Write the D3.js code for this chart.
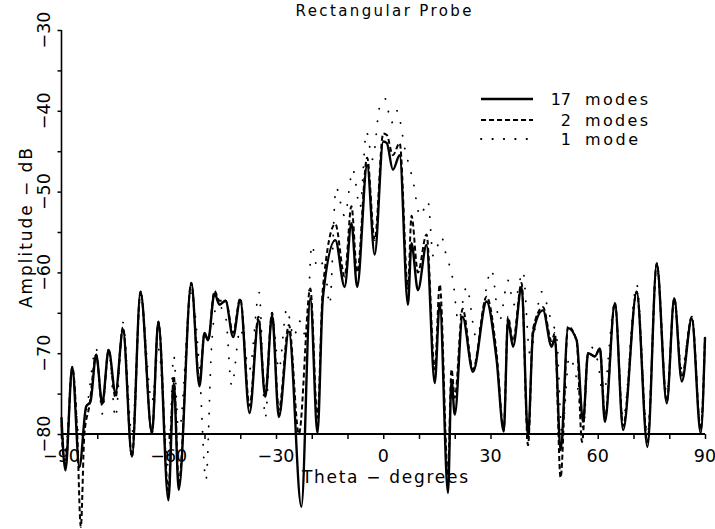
<!DOCTYPE html>
<html>
<head>
<meta charset="utf-8">
<script src="https://cdn.jsdelivr.net/npm/d3@7"></script>
<style>
  html, body { margin: 0; padding: 0; background: #fff; }
  svg { display: block; }
  text { font-family: "DejaVu Sans", "Liberation Sans", sans-serif; fill: #000; }
</style>
</head>
<body>
<svg id="chart" width="715" height="529"></svg>
<script>
// ---------------- data ----------------
const chartTitle = "Rectangular Probe";
const xTitle = "Theta \u2212 degrees";
const yTitle = "Amplitude \u2212 dB";

const xTicksMajor = [-90, -60, -30, 0, 30, 60, 90];
const xTicksMinor = [-90, -80, -70, -60, -50, -40, -30, -20, -10, 0, 10, 20, 30, 40, 50, 60, 70, 80, 90];
const yTicksMajor = [-80, -70, -60, -50, -40, -30];
const yTicksMinor = [-80, -75, -70, -65, -60, -55, -50, -45, -40, -35, -30];

const seriesNames = ["17 modes", "2 modes", "1 mode"];
const legendNumbers = ["17", "2", "1"];
const legendWords = ["modes", "modes", "mode"];

// 17 modes (solid)
const theta17 = [-90, -88.9, -87.0, -85.0, -83.1, -81.9, -80.3, -78.6, -76.8, -74.9, -72.8, -70.3, -67.9, -64.7, -62.9, -60.1, -58.6, -57.2, -53.7, -51.4, -50.0, -49.0, -47.2, -45.8, -44.1, -42.0, -40.0, -37.4, -34.9, -33.0, -31.1, -29.2, -26.4, -22.9, -20.4, -18.4, -16.9, -13.4, -10.8, -8.9, -7.3, -4.5, -2.4, 0, 1.0, 2.7, 4.6, 6.9, 7.9, 9.7, 12.1, 14.4, 15.8, 18.1, 19.1, 20.0, 22.2, 25.1, 28.9, 31.7, 33.7, 34.9, 36.3, 38.7, 40.5, 41.9, 44.7, 47.1, 48.0, 49.6, 51.7, 54.1, 55.9, 57.3, 59.2, 60.6, 62.0, 64.8, 67.1, 70.9, 73.9, 76.5, 79.3, 81.4, 83.5, 86.3, 88.8, 90];
const amp17 = [-78, -84.5, -71.7, -84.1, -76.6, -76, -70.2, -76.2, -69.6, -74.9, -67.1, -82.8, -62.4, -79.9, -66.1, -88.2, -73.7, -86.9, -61.3, -74.1, -67.5, -68.4, -62.6, -64.0, -63.5, -68.0, -63.4, -77.4, -65.9, -75.4, -65.3, -77.9, -67.3, -89.0, -63.2, -79.9, -63.2, -56.0, -61.8, -53.9, -61.8, -46.7, -57.8, -43.8, -44.0, -47.3, -45.5, -64.0, -56.4, -62.2, -56.6, -73.7, -63.8, -87.3, -73.3, -77.6, -65.5, -72.3, -63.6, -70.8, -79.7, -65.9, -69.2, -61.8, -80.3, -67.5, -64.7, -69.2, -68.1, -82, -66.9, -68.4, -78.5, -70.0, -70.4, -69.4, -78.5, -63.8, -79.5, -62.4, -81.6, -58.9, -76.2, -63.2, -73.5, -65.7, -79.9, -68.1];

// 2 modes (dashed)
const theta2 = [-90, -88.9, -87, -85.6, -84.6, -83.6, -82.2, -80.3, -78.6, -76.8, -74.9, -72.8, -70.3, -67.9, -64.7, -62.9, -60.1, -58.6, -57.2, -53.7, -51.4, -50, -49, -47.2, -45.8, -44.1, -42, -40, -37.4, -34.9, -33, -31.1, -29.2, -26.4, -23.6, -20.4, -18.4, -16.9, -13.4, -10.8, -8.9, -7.3, -4.5, -2.4, 0, 1, 2.7, 4.6, 6.9, 7.9, 9.7, 12.1, 14.4, 15.8, 18.1, 19.1, 20, 22.2, 25.1, 28.9, 31.7, 33.7, 34.9, 36.3, 38.7, 40.5, 41.9, 44.7, 47.1, 48, 49.6, 51.7, 54.1, 55.6, 57.3, 59.2, 60.6, 62, 64.8, 67.1, 70.9, 73.9, 76.5, 79.3, 81.4, 83.5, 86.3, 88.8, 90];
const amp2 = [-80, -84, -71.7, -80, -91.5, -80, -76.5, -70.2, -76.5, -69.6, -75.5, -66.8, -82.8, -62.4, -79.9, -66.1, -87, -72.8, -86, -61.3, -73.5, -67.5, -68.4, -62.3, -63.5, -63.5, -67.5, -63.2, -76.5, -65.5, -75, -65, -77, -66.5, -80, -62, -78, -62, -54, -60.5, -51.8, -60, -45.8, -56, -42.8, -43, -45.5, -44, -62, -53, -60, -55.3, -72, -61.5, -85, -72, -75.5, -64.5, -72, -63, -70, -79.5, -65.5, -68.5, -61.3, -81.4, -67, -64.3, -68.5, -67.5, -85.4, -66.7, -68.5, -81, -70, -70.4, -69.4, -78, -63.8, -79, -62.4, -81, -58.9, -76, -63.2, -73, -65.5, -79.5, -68];

// 1 mode (dotted)
const theta1 = [-90, -88.9, -87, -85, -83, -80.3, -78.6, -76.8, -74.9, -72.8, -70.3, -67.9, -64.7, -62.9, -60.1, -58.6, -57.2, -53.7, -51.4, -49.6, -48, -46.5, -44.1, -42.4, -40, -37.4, -34.7, -33, -31.1, -29.2, -27, -25, -23.5, -21.5, -20, -18.4, -16.5, -15, -13.2, -10.8, -8.5, -6.5, -4.7, -3, -1, 0.5, 2.3, 3.8, 6.2, 8.3, 10.3, 12.5, 14, 16.3, 17.4, 19.5, 21, 23.3, 26, 30.3, 32.5, 34.9, 36.5, 39.1, 41, 44.3, 47, 48.5, 50, 52, 54, 56, 57.5, 60, 61.5, 64.8, 67.1, 70.9, 73.9, 76.5, 79.3, 81.4, 83.5, 86.3, 88.8, 90];
const amp1 = [-79, -82, -72, -80.5, -77, -69.4, -77.5, -69.5, -78, -66.2, -80, -63, -76, -69.5, -84, -70.3, -80, -62.5, -72, -85.7, -69, -64, -65.5, -74, -67, -72, -62.5, -78, -65, -72, -64.5, -68, -66, -68, -56.6, -59.5, -58.7, -64, -49.5, -53, -47.3, -52, -42.6, -46, -39.5, -38.5, -41.5, -40, -45, -48.6, -53, -51.2, -58, -55.6, -57.5, -61, -66, -61.8, -68, -59.7, -66, -61, -64, -59.9, -70, -62.4, -66, -68, -80, -70.5, -73, -79.3, -69, -71, -75.4, -63.8, -78, -61.5, -80, -59.5, -75, -63.5, -72, -65.5, -79, -68];

// ---------------- drawing ----------------
const svg = d3.select("#chart");
const x = d3.scaleLinear().domain([-90, 90]).range([61.5, 705]);
const y = d3.scaleLinear().domain([-80, -30]).range([434, 30]);

const line = d3.line().x(d => x(d[0])).y(d => y(d[1])).curve(d3.curveMonotoneX);

const series = [
  { t: theta1, a: amp1, width: 1.8, dash: "0.3,12.5", cap: "round" },
  { t: theta2, a: amp2, width: 2.0, dash: "5,3", cap: "butt" },
  { t: theta17, a: amp17, width: 2.4, dash: null, cap: "round" }
];

series.forEach(s => {
  const pts = s.t.map((v, i) => [v, s.a[i]]);
  svg.append("path")
    .attr("d", line(pts))
    .attr("fill", "none")
    .attr("stroke", "#000")
    .attr("stroke-width", s.width)
    .attr("stroke-linecap", s.cap)
    .attr("stroke-linejoin", "round")
    .attr("stroke-dasharray", s.dash);
});

// X axis
const xAxis = d3.axisBottom(x).tickValues(xTicksMinor).tickSize(5).tickFormat("");
const gx = svg.append("g").attr("transform", `translate(0,${y(-80)})`).call(xAxis);
gx.select(".domain").attr("stroke-width", 2).attr("d", `M${x(-90)},0H${x(90)}`);
gx.selectAll(".tick line").attr("stroke-width", 1.5);
svg.append("g").selectAll("text").data(xTicksMajor).join("text")
  .attr("x", d => x(d)).attr("y", 462)
  .attr("text-anchor", "middle")
  .style("font-size", "17.5px")
  .text(d => d < 0 ? "\u2212" + Math.abs(d) : String(d));

// Y axis
const yAxis = d3.axisLeft(y).tickValues(yTicksMinor).tickSize(4).tickFormat("");
const gy = svg.append("g").attr("transform", `translate(${x(-90)},0)`).call(yAxis);
gy.select(".domain").attr("stroke-width", 1.6).attr("d", `M0,${y(-30)}V${y(-80)}`);
gy.selectAll(".tick line").attr("stroke-width", 1.5);
svg.append("g").selectAll("text").data(yTicksMajor).join("text")
  .attr("transform", d => `translate(50,${y(d)}) rotate(-90)`)
  .attr("text-anchor", "middle")
  .style("font-size", "17.5px")
  .text(d => d < 0 ? "\u2212" + Math.abs(d) : String(d));

// Titles
svg.append("text").attr("x", 383.5).attr("y", 15.5)
  .attr("text-anchor", "middle").style("font-size", "15px")
  .attr("textLength", 176).attr("lengthAdjust", "spacing")
  .text(chartTitle);
svg.append("text").attr("x", 385).attr("y", 483)
  .attr("text-anchor", "middle").style("font-size", "17px")
  .attr("textLength", 166).attr("lengthAdjust", "spacing")
  .text(xTitle);
svg.append("text").attr("transform", "translate(32,228) rotate(-90)")
  .attr("text-anchor", "middle").style("font-size", "17px")
  .attr("textLength", 160).attr("lengthAdjust", "spacing")
  .text(yTitle);

// Legend
const legendY = [99, 120, 139];
const legendDash = [null, "5,3", "0.4,11"];
const legendW = [2.4, 2.0, 1.9];
const legendCap = ["butt", "butt", "round"];
const wordLen = [63, 63, 53];
seriesNames.forEach((name, i) => {
  svg.append("line")
    .attr("x1", 481).attr("x2", 533)
    .attr("y1", legendY[i]).attr("y2", legendY[i])
    .attr("stroke", "#000").attr("stroke-width", legendW[i])
    .attr("stroke-linecap", legendCap[i])
    .attr("stroke-dasharray", legendDash[i]);
  svg.append("text").attr("x", 571).attr("y", legendY[i] + 6)
    .attr("text-anchor", "end").style("font-size", "16px")
    .text(legendNumbers[i]);
  svg.append("text").attr("x", 585).attr("y", legendY[i] + 6)
    .style("font-size", "16px")
    .attr("textLength", wordLen[i]).attr("lengthAdjust", "spacing")
    .text(legendWords[i]);
});
</script>
</body>
</html>
